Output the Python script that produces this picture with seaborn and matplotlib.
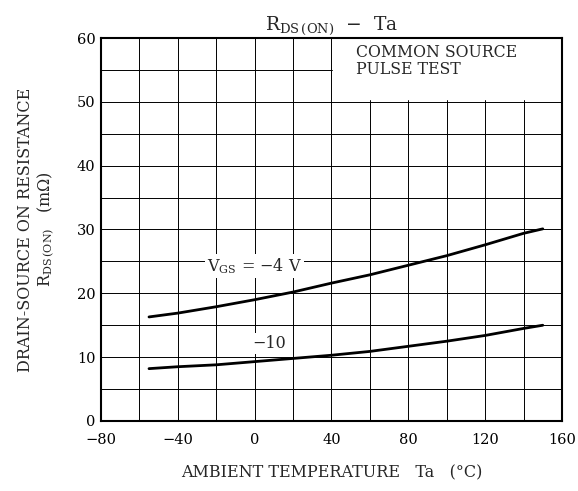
"""RDS(ON) vs ambient temperature, redrawn from a datasheet curve."""
import matplotlib
matplotlib.use("Agg")
import matplotlib.pyplot as plt
import pandas as pd
import seaborn as sns

# values
temps = [-55, -40, -20, 0, 20, 40, 60, 80, 100, 120, 140, 150]
rds_vgs4 = [16.3, 16.9, 17.9, 19.0, 20.2, 21.6, 22.9, 24.4, 25.9, 27.6, 29.4, 30.1]
rds_vgs10 = [8.2, 8.5, 8.8, 9.3, 9.8, 10.3, 10.9, 11.7, 12.5, 13.4, 14.5, 15.0]
x_ticks = [-80, -40, 0, 40, 80, 120, 160]
y_ticks = [0, 10, 20, 30, 40, 50, 60]

df = pd.concat([
    pd.DataFrame({'ta': temps, 'rds': rds_vgs4, 'vgs': '-4'}),
    pd.DataFrame({'ta': temps, 'rds': rds_vgs10, 'vgs': '-10'}),
], ignore_index=True)

sns.set_theme(style="white")
plt.rcParams['font.family'] = ['DejaVu Serif']
plt.rcParams['mathtext.fontset'] = 'dejavuserif'

fig = plt.figure(figsize=(5.78, 4.91), dpi=100)
ax = fig.add_axes([0.1747, 0.1426, 0.7976, 0.78])

# grid every 20 degC / 5 mOhm
for gx in range(-80, 161, 20):
    ax.axvline(gx, color='black', lw=0.7, zorder=1)
for gy in range(0, 61, 5):
    ax.axhline(gy, color='black', lw=0.7, zorder=1)

# white block behind the test-condition note
ax.fill_between([40.8, 160], 50.4, 60, color='white', zorder=2)

sns.lineplot(data=df, x='ta', y='rds', hue='vgs', palette=['black', 'black'],
             linewidth=2.0, legend=False, ax=ax, zorder=4)

ax.set_xlim(-80, 160)
ax.set_ylim(0, 60)
ax.set_xticks(x_ticks)
ax.set_yticks(y_ticks)
ax.tick_params(axis='both', length=0, labelsize=10.5, colors='black')
ax.tick_params(axis='x', pad=9)
ax.tick_params(axis='y', pad=4)
for s in ax.spines.values():
    s.set_color('black')
    s.set_linewidth(1.5)
    s.set_zorder(5)

ax.text(53, 56.4, "COMMON SOURCE\nPULSE TEST", fontsize=11.3, va='center',
        ha='left', linespacing=1.05, zorder=6)
ax.text(0, 24.3, r"V$_{\mathrm{GS}}$ = $-$4 V", fontsize=11.5, ha='center', va='center',
        zorder=6, bbox=dict(facecolor='white', edgecolor='none', pad=1.5))
ax.text(7.5, 12.1, "−10", fontsize=11.5, ha='center', va='center', zorder=6,
        bbox=dict(facecolor='white', edgecolor='none', pad=1.5))

ax.set_xlabel("AMBIENT TEMPERATURE   Ta   (°C)", fontsize=11.5, labelpad=12)
ax.set_ylabel("DRAIN-SOURCE ON RESISTANCE\n" + r"R$_{\mathrm{DS\,(ON)}}$   (m$\Omega$)",
              fontsize=11.5, labelpad=14, linespacing=1.15)
ax.set_title(r"R$_{\mathrm{DS\,(ON)}}$  −  Ta", fontsize=13.5, pad=6)

fig.savefig("out.png", dpi=100)
